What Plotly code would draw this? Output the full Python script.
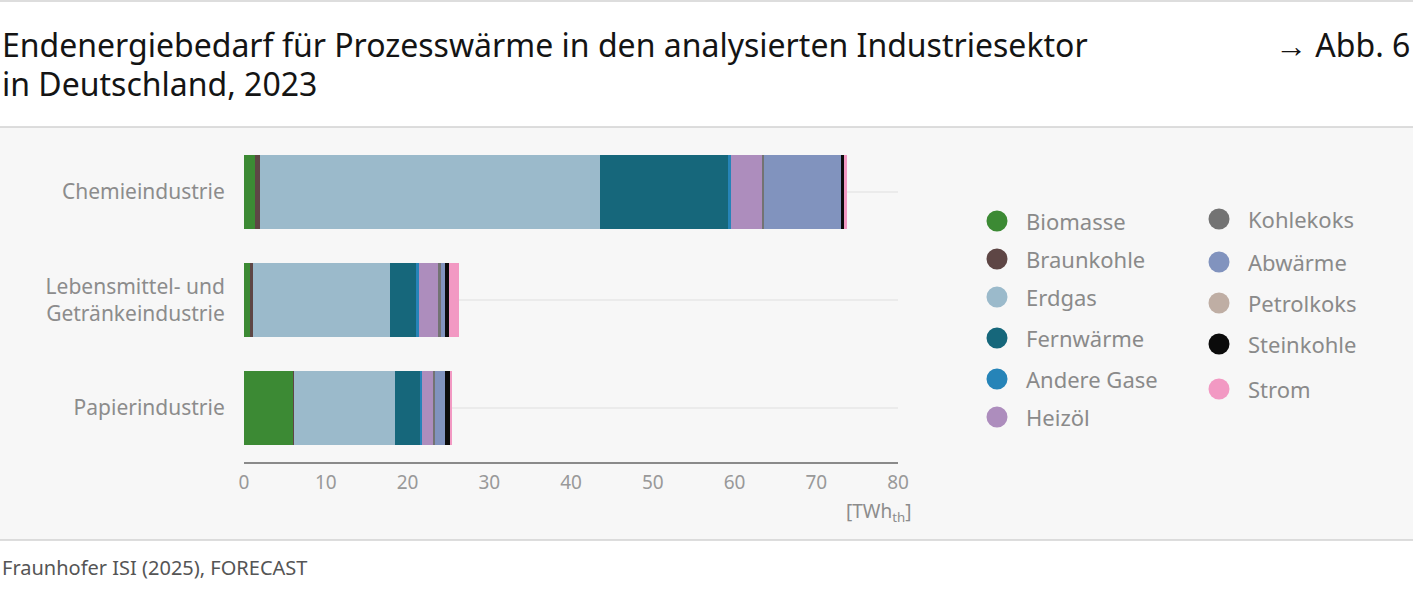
import plotly.graph_objects as go

# Sektoren (von oben nach unten)
sektoren = ["Chemieindustrie", "Lebensmittel- und<br>Getränkeindustrie", "Papierindustrie"]

# Energieträger in Stapelreihenfolge
traeger = ["Biomasse", "Braunkohle", "Erdgas", "Fernwärme", "Andere Gase", "Heizöl",
           "Kohlekoks", "Abwärme", "Petrolkoks", "Steinkohle", "Strom"]
farben = ["#3c8a34", "#5e4645", "#9bbacb", "#16677b", "#2684b8", "#ad8dbd",
          "#737373", "#8193be", "#bfaea4", "#0b0b0b", "#f299c3"]

# Endenergiebedarf in TWh_th je Sektor
chemie = [1.3, 0.6, 41.6, 15.7, 0.35, 3.9, 0.1, 9.5, 0.0, 0.35, 0.3]
lebensmittel = [0.75, 0.3, 16.8, 3.2, 0.4, 2.4, 0.2, 0.5, 0.0, 0.53, 1.2]
papier = [6.0, 0.1, 12.4, 3.1, 0.2, 1.4, 0.17, 1.2, 0.0, 0.7, 0.2]

x_ticks = [0, 10, 20, 30, 40, 50, 60, 70, 80]

# Seitenmaße in Pixeln
W, H = 1413, 594
L, R, T, B = 244, 898, 138, 462
FONT = "Noto Sans"


def px(x):
    return (x - L) / (R - L)


def py(y):
    return (B - y) / (B - T)


fig = go.Figure()
for i, name in enumerate(traeger):
    fig.add_trace(go.Bar(
        name=name, orientation="h", y=sektoren,
        x=[chemie[i], lebensmittel[i], papier[i]],
        marker=dict(color=farben[i], line=dict(width=0)),
        showlegend=False,
    ))

shapes = [
    dict(type="rect", xref="paper", yref="paper", x0=px(0), x1=px(W), y0=py(540), y1=py(127),
         fillcolor="#f7f7f7", line=dict(width=0), layer="below"),
    dict(type="line", xref="paper", yref="paper", x0=px(0), x1=px(W), y0=py(127), y1=py(127),
         line=dict(color="#d2d2d2", width=1.5)),
    dict(type="line", xref="paper", yref="paper", x0=px(0), x1=px(W), y0=py(540), y1=py(540),
         line=dict(color="#d2d2d2", width=1.5)),
    dict(type="line", xref="paper", yref="paper", x0=px(0), x1=px(W), y0=py(1), y1=py(1),
         line=dict(color="#d2d2d2", width=1.5)),
]

annotations = [
    dict(text="Endenergiebedarf für Prozesswärme in den analysierten Industriesektor",
         x=px(0), y=py(44), xanchor="left", yanchor="middle",
         font=dict(size=32, color="#141414")),
    dict(text="in Deutschland, 2023", x=px(0), y=py(84), xanchor="left", yanchor="middle",
         font=dict(size=32, color="#141414")),
    dict(text="→ Abb. 6", x=px(1412), y=py(44), xanchor="right", yanchor="middle",
         font=dict(size=32, color="#141414")),
    dict(text="[TWh<sub>th</sub>]", x=px(914), y=py(512), xanchor="right", yanchor="middle",
         font=dict(size=19, color="#8c8c8c")),
    dict(text="Fraunhofer ISI (2025), FORECAST", x=px(0), y=py(567), xanchor="left",
         yanchor="middle", font=dict(size=20, color="#555555")),
]

# Legende in zwei Spalten
leg_cols = [(997, 1024, [221, 259, 297, 338, 379, 417]),
            (1219, 1246, [219, 262, 303, 344, 389])]
k = 0
for cx, tx, rows in leg_cols:
    for ry in rows:
        shapes.append(dict(type="circle", xref="paper", yref="paper",
                           xsizemode="pixel", ysizemode="pixel",
                           xanchor=px(cx), yanchor=py(ry), x0=-10.5, x1=10.5, y0=-10.5, y1=10.5,
                           fillcolor=farben[k], line=dict(width=0)))
        annotations.append(dict(text=traeger[k], x=px(tx), y=py(ry), xanchor="left",
                                yanchor="middle", font=dict(size=22, color="#8a8a8a")))
        k += 1

for a in annotations:
    a.update(xref="paper", yref="paper", showarrow=False)

fig.update_layout(
    width=W, height=H,
    margin=dict(l=L, r=W - R, t=T, b=H - B, pad=0),
    paper_bgcolor="white", plot_bgcolor="rgba(0,0,0,0)",
    font=dict(family=FONT, color="#8c8c8c"),
    barmode="stack", bargap=0.31,
    shapes=shapes, annotations=annotations,
    showlegend=False,
    xaxis=dict(range=[0, 80], tickvals=x_ticks, showgrid=False, zeroline=False,
               showline=True, linecolor="#8a8a8a", linewidth=2,
               ticks="outside", ticklen=2, tickcolor="rgba(0,0,0,0)",
               tickfont=dict(size=19, color="#999999")),
    yaxis=dict(autorange="reversed", showgrid=True, gridcolor="#ebebeb", gridwidth=2,
               showline=False, zeroline=False,
               ticks="outside", ticklen=14, tickcolor="rgba(0,0,0,0)",
               tickfont=dict(size=21, color="#8c8c8c")),
)

# Seitenrand des Browsers entfernen, damit die Pixel passen
fig.write_html("out.html", config={"displayModeBar": False},
               post_script="document.body.style.margin='0';")
